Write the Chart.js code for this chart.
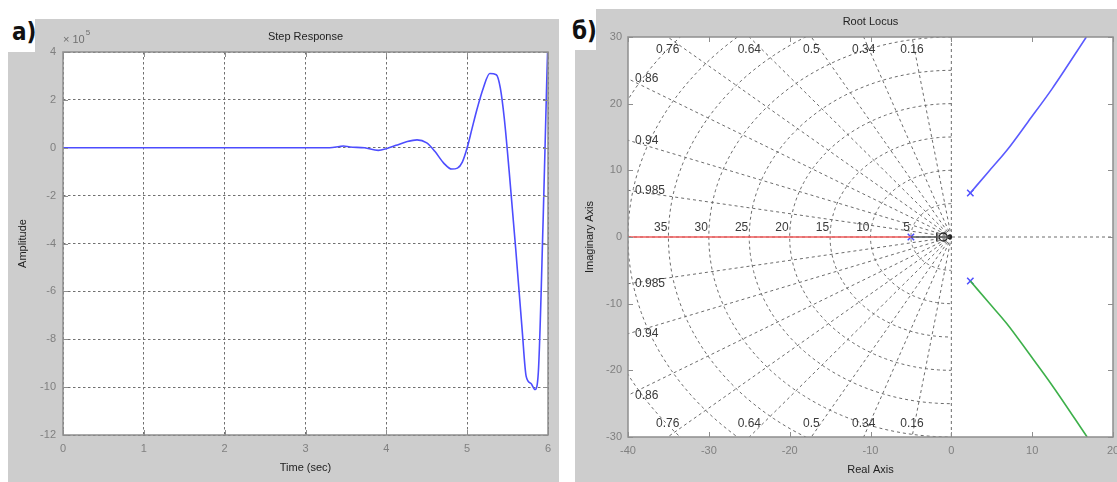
<!DOCTYPE html>
<html>
<head>
<meta charset="utf-8">
<script src="https://cdn.jsdelivr.net/npm/chart.js@4.4.1/dist/chart.umd.min.js"></script>
<style>
  html, body { margin: 0; padding: 0; width: 1117px; height: 482px; overflow: hidden; background: #fff; position: relative; }
  .panel { position: absolute; background: #cdcdcd; }
  .tag { position: absolute; background: #fff; color: #111;
         font: bold 24px "Liberation Sans Narrow", "DejaVu Sans Condensed", "Liberation Sans", sans-serif; }
  .tag span { position: absolute; }
  canvas { position: absolute; }
</style>
</head>
<body>
<div class="panel" style="left:8px;top:19px;width:551px;height:463px"></div>
<div class="panel" style="left:575px;top:9px;width:542px;height:473px"></div>
<div class="tag" style="left:0;top:0;width:35px;height:52px"><span style="left:12px;top:18px">а)</span></div>
<div class="tag" style="left:560px;top:0;width:36px;height:50px"><span style="left:12px;top:17px">б)</span></div>
<canvas id="step" width="551" height="463" style="left:8px;top:19px"></canvas>
<canvas id="locus" width="572" height="473" style="left:575px;top:9px"></canvas>

<script>
// ---- Step response (amplitude in units of 1e5) ----
const stepTime = [0, 3.3, 3.42, 3.47, 3.55, 3.73, 3.9, 4.0, 4.12, 4.25, 4.38, 4.5, 4.6, 4.71, 4.81,
                  4.88, 4.94, 5.0, 5.06, 5.12, 5.2, 5.28, 5.36, 5.41, 5.46, 5.52, 5.6, 5.68, 5.73, 5.79,
                  5.84, 5.88, 5.94, 5.985, 6.0];
const stepAmplitude = [0, 0, 0.05, 0.07, 0.03, 0.0, -0.11, -0.04, 0.1, 0.25, 0.33, 0.2, -0.15, -0.64, -0.89,
                       -0.85, -0.6, 0.0, 0.8, 1.59, 2.5, 3.1, 3.05, 2.5, 1.2, -1.0, -4.2, -7.6, -9.55, -9.85,
                       -10.1, -9.4, -3.0, 2.84, 4.6];
const stepTimeTicks = [0, 1, 2, 3, 4, 5, 6];
const stepAmplitudeTicks = [-12, -10, -8, -6, -4, -2, 0, 2, 4];

// ---- Root locus ----
const redBranchRe = [-45, -5];
const redBranchIm = [0, 0];
const innerBranchRe = [-5, -0.2];
const innerBranchIm = [0, 0];
const upperBranchRe = [2.35, 4.6, 6.9, 9.5, 12.5, 16.7];
const upperBranchIm = [6.6, 9.8, 13.05, 17.3, 22.3, 30.0];
const lowerBranchRe = [2.35, 4.6, 6.9, 9.5, 12.5, 16.8];
const lowerBranchIm = [-6.6, -9.8, -13.05, -17.3, -22.3, -30.0];
const poleRe = [-5, 2.35, 2.35];
const poleIm = [0, 6.6, -6.6];
const originMarkRe = [-1.8, -1.0, -0.2];
const originMarkIm = [0, 0, 0];
const realAxisTicks = [-40, -30, -20, -10, 0, 10, 20];
const imagAxisTicks = [-30, -20, -10, 0, 10, 20, 30];
const dampingRatios = [0.16, 0.34, 0.5, 0.64, 0.76, 0.86, 0.94, 0.985];
const naturalFrequencies = [5, 10, 15, 20, 25, 30, 35, 40, 45];
const labelledFrequencies = [35, 30, 25, 20, 15, 10, 5];

const FONT = '"Liberation Sans", Arial, sans-serif';
const pairs = (xs, ys) => xs.map((v, i) => ({ x: v, y: ys[i] }));

// MATLAB-like axes box: white plot area, frame, inward tick marks and texts
const matlabAxes = {
  id: 'matlabAxes',
  beforeDraw(chart) {
    const { ctx, chartArea: a } = chart;
    ctx.save();
    ctx.fillStyle = '#fff';
    ctx.fillRect(a.left, a.top, a.right - a.left, a.bottom - a.top);
    ctx.restore();
  },
  afterDraw(chart, args, o) {
    const { ctx, chartArea: a, scales: { x, y } } = chart;
    ctx.save();
    ctx.strokeStyle = '#8e8e8e';
    ctx.lineWidth = 1;
    ctx.beginPath();
    x.ticks.forEach(t => {
      const px = Math.round(x.getPixelForValue(t.value)) + 0.5;
      ctx.moveTo(px, a.bottom); ctx.lineTo(px, a.bottom - 5);
      ctx.moveTo(px, a.top); ctx.lineTo(px, a.top + 5);
    });
    y.ticks.forEach(t => {
      const py = Math.round(y.getPixelForValue(t.value)) + 0.5;
      ctx.moveTo(a.left, py); ctx.lineTo(a.left + 5, py);
      ctx.moveTo(a.right, py); ctx.lineTo(a.right - 5, py);
    });
    ctx.stroke();
    ctx.lineWidth = 1.5;
    ctx.strokeRect(a.left, a.top, a.right - a.left, a.bottom - a.top);

    ctx.fillStyle = '#222';
    ctx.font = '11px ' + FONT;
    ctx.textAlign = 'center';
    ctx.textBaseline = 'middle';
    const cx = (a.left + a.right) / 2;
    ctx.fillText(o.title, cx, a.top - 15);
    ctx.fillText(o.xLabel, cx, a.bottom + 33);
    if (o.exponent) {
      ctx.fillStyle = '#707070';
      ctx.textAlign = 'left';
      ctx.fillText('× 10', a.left, a.top - 12);
      const w = ctx.measureText('× 10').width;
      ctx.font = '8px ' + FONT;
      ctx.fillText(o.exponent, a.left + w + 1, a.top - 19);
      ctx.fillStyle = '#222';
      ctx.font = '11px ' + FONT;
      ctx.textAlign = 'center';
    }
    ctx.translate(15, (a.top + a.bottom) / 2);
    ctx.rotate(-Math.PI / 2);
    ctx.fillText(o.yLabel, 0, 0);
    ctx.restore();
  }
};

// damping-ratio rays and natural-frequency arcs of the s-plane
const sPlaneGrid = {
  id: 'sPlaneGrid',
  beforeDatasetsDraw(chart, args, o) {
    if (!o.zetas) return;
    const { ctx, chartArea: a, scales: { x, y } } = chart;
    const X = v => x.getPixelForValue(v), Y = v => y.getPixelForValue(v);
    ctx.save();
    ctx.beginPath();
    ctx.rect(a.left, a.top, a.right - a.left, a.bottom - a.top);
    ctx.clip();
    ctx.strokeStyle = '#6c6c6c';
    ctx.lineWidth = 1;
    ctx.setLineDash([3, 3]);
    ctx.beginPath();
    ctx.moveTo(a.left, Y(0)); ctx.lineTo(a.right, Y(0));
    ctx.moveTo(X(0), a.top); ctx.lineTo(X(0), a.bottom);
    ctx.stroke();
    o.zetas.forEach(z => {
      const s = Math.sqrt(1 - z * z);
      [1, -1].forEach(sg => {
        ctx.beginPath();
        ctx.moveTo(X(0), Y(0));
        ctx.lineTo(X(-200 * z), Y(sg * 200 * s));
        ctx.stroke();
      });
    });
    o.freqs.forEach(w => {
      ctx.beginPath();
      for (let k = 0; k <= 120; k++) {
        const th = Math.PI / 2 + Math.PI * k / 120;
        const px = X(w * Math.cos(th)), py = Y(w * Math.sin(th));
        if (k) ctx.lineTo(px, py); else ctx.moveTo(px, py);
      }
      ctx.stroke();
    });
    ctx.restore();

    ctx.save();
    ctx.fillStyle = '#3a3a3a';
    ctx.font = '12px ' + FONT;
    ctx.textBaseline = 'middle';
    o.zetas.forEach(z => {
      const s = Math.sqrt(1 - z * z);
      const txt = String(z);
      const yAtLeft = -x.min * s / z;
      if (yAtLeft <= y.max) {
        ctx.textAlign = 'left';
        ctx.fillText(txt, a.left + 7, Y(yAtLeft));
        ctx.fillText(txt, a.left + 7, Y(-yAtLeft));
      } else {
        const xe = -y.max / s * z;
        ctx.textAlign = 'center';
        ctx.fillText(txt, X(xe), a.top + 13);
        ctx.fillText(txt, X(xe), a.bottom - 13);
      }
    });
    ctx.textAlign = 'right';
    o.labelled.forEach(w => ctx.fillText(String(w), X(-w) - 1, Y(0) - 9));
    ctx.restore();
  }
};

const tickFont = { family: FONT, size: 11 };
const setTicks = arr => scale => { scale.ticks = arr.map(v => ({ value: v })); };

new Chart(document.getElementById('step'), {
  type: 'scatter',
  data: {
    datasets: [{
      data: pairs(stepTime, stepAmplitude),
      showLine: true,
      borderColor: '#4d4dff',
      borderWidth: 1.6,
      pointRadius: 0,
      cubicInterpolationMode: 'monotone'
    }]
  },
  options: {
    responsive: false, animation: false, devicePixelRatio: 1,
    layout: { padding: { left: 0, top: 33, right: 11, bottom: 0 } },
    plugins: {
      legend: { display: false }, tooltip: { enabled: false },
      matlabAxes: { title: 'Step Response', xLabel: 'Time (sec)', yLabel: 'Amplitude', exponent: '5' }
    },
    scales: {
      x: {
        type: 'linear', min: 0, max: 6,
        afterBuildTicks: setTicks(stepTimeTicks),
        afterFit: s => { s.height = 47; },
        grid: { color: '#707070', lineWidth: 1, drawTicks: false },
        border: { display: false, dash: [2.5, 2.5] },
        ticks: { font: tickFont, color: '#808080', padding: 7, maxRotation: 0 }
      },
      y: {
        type: 'linear', min: -12, max: 4,
        afterBuildTicks: setTicks(stepAmplitudeTicks),
        afterFit: s => { s.width = 55; },
        grid: { color: '#707070', lineWidth: 1, drawTicks: false },
        border: { display: false, dash: [2.5, 2.5] },
        ticks: { font: tickFont, color: '#808080', padding: 7 }
      }
    }
  },
  plugins: [matlabAxes]
});

new Chart(document.getElementById('locus'), {
  type: 'scatter',
  data: {
    datasets: [
      { data: pairs(redBranchRe, redBranchIm), showLine: true, borderColor: '#f05a5a', borderWidth: 1.6, pointRadius: 0 },
      { data: pairs(innerBranchRe, innerBranchIm), showLine: true, borderColor: '#555', borderWidth: 1.6, pointRadius: 0 },
      { data: pairs(upperBranchRe, upperBranchIm), showLine: true, borderColor: '#5a5aff', borderWidth: 1.6, pointRadius: 0, cubicInterpolationMode: 'monotone' },
      { data: pairs(lowerBranchRe, lowerBranchIm), showLine: true, borderColor: '#3db04a', borderWidth: 1.6, pointRadius: 0, cubicInterpolationMode: 'monotone' },
      { data: pairs(poleRe, poleIm), showLine: false, pointStyle: 'crossRot', pointRadius: 4.5,
        pointBorderColor: '#4d4dff', pointBorderWidth: 1.5 },
      { data: pairs(originMarkRe, originMarkIm), showLine: false,
        pointStyle: ['line', 'circle', 'circle'], rotation: [90, 0, 0], pointRadius: [4.5, 4, 1.8],
        pointBorderColor: '#222', pointBackgroundColor: ['#222', 'rgba(0,0,0,0)', '#222'], pointBorderWidth: 1.3 }
    ]
  },
  options: {
    responsive: false, animation: false, devicePixelRatio: 1,
    layout: { padding: { left: 0, top: 28, right: 34, bottom: 0 } },
    plugins: {
      legend: { display: false }, tooltip: { enabled: false },
      matlabAxes: { title: 'Root Locus', xLabel: 'Real Axis', yLabel: 'Imaginary Axis' },
      sPlaneGrid: { zetas: dampingRatios, freqs: naturalFrequencies, labelled: labelledFrequencies }
    },
    scales: {
      x: {
        type: 'linear', min: -40, max: 20,
        afterBuildTicks: setTicks(realAxisTicks),
        afterFit: s => { s.height = 45; },
        grid: { display: false, drawTicks: false },
        border: { display: false },
        ticks: { font: tickFont, color: '#808080', padding: 7, maxRotation: 0 }
      },
      y: {
        type: 'linear', min: -30, max: 30,
        afterBuildTicks: setTicks(imagAxisTicks),
        afterFit: s => { s.width = 53; },
        grid: { display: false, drawTicks: false },
        border: { display: false },
        ticks: { font: tickFont, color: '#808080', padding: 6 }
      }
    }
  },
  plugins: [sPlaneGrid, matlabAxes]
});
</script>
</body>
</html>
